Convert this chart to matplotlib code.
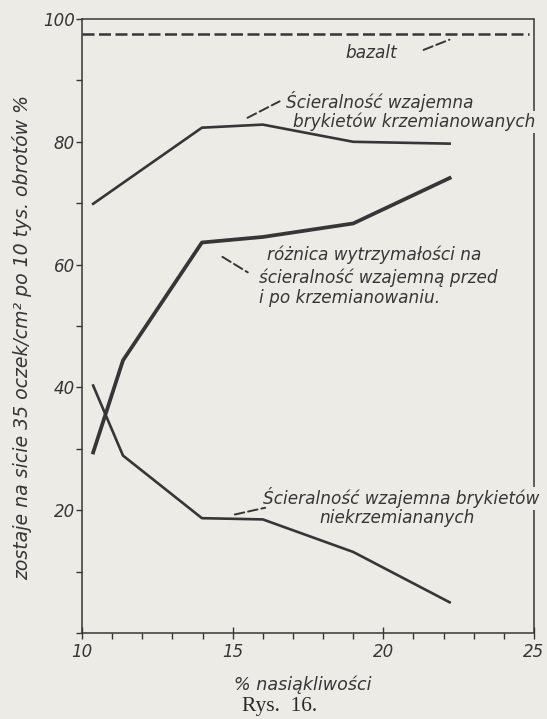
import matplotlib
matplotlib.use("Agg")
import matplotlib.pyplot as plt
from matplotlib.ticker import MultipleLocator

# % nasiąkliwości at which the briquettes were measured
x_krzem = [10.37, 13.98, 16.0, 19.0, 22.2]
y_krzem = [69.9, 82.3, 82.8, 80.0, 79.7]

x_roznica = [10.37, 11.36, 13.98, 16.0, 19.0, 22.2]
y_roznica = [29.4, 44.4, 63.6, 64.5, 66.7, 74.1]

x_niekrzem = [10.37, 11.36, 13.98, 16.0, 19.0, 22.2]
y_niekrzem = [40.3, 28.9, 18.7, 18.5, 13.2, 5.0]

bazalt = 97.6

x_ticks = [10, 15, 20, 25]
y_ticks = [20, 40, 60, 80, 100]

BG = "#ecebe6"
INK = "#363636"

plt.rcParams["font.family"] = ["DejaVu Sans"]

fig = plt.figure(figsize=(5.47, 7.19), dpi=100, facecolor=BG)
ax = fig.add_axes([82 / 547, 1 - 633 / 719, (534 - 82) / 547, (633 - 19) / 719])
ax.set_facecolor(BG)

ax.set_xlim(10, 25)
ax.set_ylim(0, 100)

ax.plot(x_krzem, y_krzem, color=INK, lw=1.9, solid_joinstyle="round")
ax.plot(x_roznica, y_roznica, color=INK, lw=2.7, solid_joinstyle="round")
ax.plot(x_niekrzem, y_niekrzem, color=INK, lw=1.9, solid_joinstyle="round")
ax.axhline(bazalt, xmin=0, xmax=0.99, color=INK, lw=1.8, ls=(0, (4.8, 1.8)))

# frame: the right border is broken where lettering crosses it
for side in ("left", "bottom", "top"):
    ax.spines[side].set_color(INK)
    ax.spines[side].set_linewidth(1.1)
ax.spines["right"].set_visible(False)
for y0, y1 in [(0.0, 0.200), (0.237, 0.815), (0.850, 1.0)]:
    ax.plot([1, 1], [y0, y1], transform=ax.transAxes, color=INK, lw=1.1,
            clip_on=False, solid_capstyle="butt")

ax.set_xticks(x_ticks)
ax.set_yticks(y_ticks)
ax.set_yticklabels([str(v) for v in y_ticks])
ax.xaxis.set_minor_locator(MultipleLocator(1))
ax.yaxis.set_minor_locator(MultipleLocator(10))
ax.tick_params(axis="x", which="major", direction="inout", length=9, width=1.0,
               color=INK, labelsize=12, labelcolor=INK, pad=3)
ax.tick_params(axis="x", which="minor", direction="out", length=4, width=1.0, color=INK)
ax.tick_params(axis="y", which="major", direction="out", length=4, width=1.0,
               color=INK, labelsize=12, labelcolor=INK, pad=1)
ax.tick_params(axis="y", which="minor", direction="out", length=4, width=1.0, color=INK)
for lab in ax.get_xticklabels() + ax.get_yticklabels():
    lab.set_fontstyle("italic")

txt = dict(color=INK, fontsize=12.2, style="italic")
lead = dict(arrowstyle="-", color=INK, lw=1.4, ls=(0, (5, 2)))

ax.text(20.45, 94.4, "bazalt", ha="right", va="center", **txt)
ax.annotate("", xy=(22.28, 96.8), xytext=(21.25, 94.8), arrowprops=lead)

ax.text(16.77, 86.6, "Ścieralność wzajemna", ha="left", va="center", **txt)
ax.text(25.03, 83.3, "brykietów krzemianowanych", ha="right", va="center", **txt)
ax.annotate("", xy=(16.64, 86.8), xytext=(15.41, 83.7), arrowprops=lead)

ax.text(16.14, 61.6, "różnica wytrzymałości na", ha="left", va="center", **txt)
ax.text(15.87, 57.9, "ścieralność wzajemną przed", ha="left", va="center", **txt)
ax.text(15.87, 54.6, "i po krzemianowaniu.", ha="left", va="center", **txt)
ax.annotate("", xy=(15.58, 58.5), xytext=(14.58, 61.5), arrowprops=lead)

ax.text(16.0, 22.1, "Ścieralność wzajemna brykietów", ha="left", va="center", **txt)
ax.text(20.45, 18.7, "niekrzemiananych", ha="center", va="center", **txt)
ax.annotate("", xy=(16.17, 20.5), xytext=(14.98, 19.2), arrowprops=lead)

fig.text(22 / 547, 1 - 338 / 719,
         "zostaje na sicie 35 oczek/cm² po 10 tys. obrotów %",
         rotation=90, ha="center", va="center", color=INK, fontsize=13.6, style="italic")
fig.text(303 / 547, 1 - 685 / 719, "% nasiąkliwości", ha="center", va="center",
         color=INK, fontsize=12.6, style="italic")
fig.text(280 / 547, 1 - 707 / 719, "Rys.  16.", ha="center", va="center",
         color="#2a2a2a", fontsize=15.5, family=["Liberation Serif", "DejaVu Serif"])

fig.savefig("out.png", dpi=100, facecolor=BG)
